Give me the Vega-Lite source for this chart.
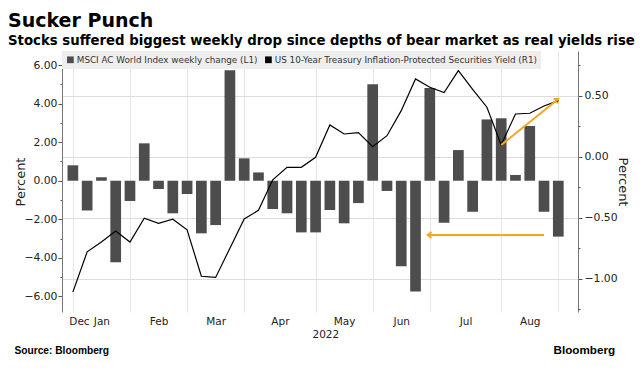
{
  "$schema": "https://vega.github.io/schema/vega-lite/v6.json",
  "width": 516,
  "height": 261,
  "autosize": {"type": "none"},
  "padding": {"left": 62, "top": 51, "right": 65, "bottom": 60},
  "background": "white",
  "title": {
    "text": "Sucker Punch",
    "subtitle": "Stocks suffered biggest weekly drop since depths of bear market as real yields rise",
    "anchor": "start",
    "frame": "group",
    "dx": -54,
    "offset": 4,
    "font": "DejaVu Sans",
    "fontSize": 19,
    "fontWeight": "bold",
    "color": "#000000",
    "subtitleFont": "DejaVu Sans",
    "subtitleFontSize": 13.3,
    "subtitleFontWeight": "bold",
    "subtitleColor": "#000000",
    "subtitlePadding": 3
  },
  "datasets": {
    "weekly": [
      {"date": "2021-12-31", "chg": 0.80, "tips": -1.11},
      {"date": "2022-01-07", "chg": -1.54, "tips": -0.78},
      {"date": "2022-01-14", "chg": 0.18, "tips": -0.70},
      {"date": "2022-01-21", "chg": -4.23, "tips": -0.61},
      {"date": "2022-01-28", "chg": -1.05, "tips": -0.70},
      {"date": "2022-02-04", "chg": 1.94, "tips": -0.505},
      {"date": "2022-02-11", "chg": -0.43, "tips": -0.546},
      {"date": "2022-02-18", "chg": -1.69, "tips": -0.513},
      {"date": "2022-02-25", "chg": -0.69, "tips": -0.60},
      {"date": "2022-03-04", "chg": -2.73, "tips": -0.98},
      {"date": "2022-03-11", "chg": -2.30, "tips": -0.99},
      {"date": "2022-03-18", "chg": 5.73, "tips": -0.75},
      {"date": "2022-03-25", "chg": 1.16, "tips": -0.51},
      {"date": "2022-04-01", "chg": 0.43, "tips": -0.44},
      {"date": "2022-04-08", "chg": -1.47, "tips": -0.19},
      {"date": "2022-04-15", "chg": -1.69, "tips": -0.087},
      {"date": "2022-04-22", "chg": -2.68, "tips": -0.087},
      {"date": "2022-04-29", "chg": -2.68, "tips": -0.005},
      {"date": "2022-05-06", "chg": -1.52, "tips": 0.26},
      {"date": "2022-05-13", "chg": -2.21, "tips": 0.186},
      {"date": "2022-05-20", "chg": -1.16, "tips": 0.197},
      {"date": "2022-05-27", "chg": 5.00, "tips": 0.082},
      {"date": "2022-06-03", "chg": -0.53, "tips": 0.172},
      {"date": "2022-06-10", "chg": -4.44, "tips": 0.377},
      {"date": "2022-06-17", "chg": -5.75, "tips": 0.637},
      {"date": "2022-06-24", "chg": 4.81, "tips": 0.569},
      {"date": "2022-07-01", "chg": -2.18, "tips": 0.525},
      {"date": "2022-07-08", "chg": 1.59, "tips": 0.705},
      {"date": "2022-07-15", "chg": -1.61, "tips": 0.552},
      {"date": "2022-07-22", "chg": 3.18, "tips": 0.405},
      {"date": "2022-07-29", "chg": 3.24, "tips": 0.096},
      {"date": "2022-08-05", "chg": 0.30, "tips": 0.35},
      {"date": "2022-08-12", "chg": 2.84, "tips": 0.356},
      {"date": "2022-08-19", "chg": -1.61, "tips": 0.415},
      {"date": "2022-08-26", "chg": -2.90, "tips": 0.459}
    ],
    "arrows": [
      {"x0": "2022-07-29", "y0": 0.096, "x1": "2022-08-26", "y1": 0.473, "ang": -38},
      {"x0": "2022-08-19", "y0": -0.642, "x1": "2022-06-23", "y1": -0.642, "ang": 180}
    ]
  },
  "layer": [
    {
      "data": {"name": "arrows"},
      "mark": {"type": "point", "shape": "M-1,-0.8L0,0L-1,0.8", "filled": false, "color": "#f5a623", "strokeWidth": 2, "size": 55, "opacity": 1},
      "encoding": {
        "x": {
          "field": "x1",
          "type": "temporal",
          "scale": {"type": "utc", "domain": [{"year": 2021, "month": 12, "date": 28, "hours": 3, "utc": true}, {"year": 2022, "month": 9, "date": 2, "hours": 5, "utc": true}], "nice": false},
          "axis": {
            "orient": "bottom",
            "values": [
              {"year": 2021, "month": 12, "date": 31, "utc": true},
              {"year": 2022, "month": 1, "date": 28, "utc": true},
              {"year": 2022, "month": 2, "date": 25, "utc": true},
              {"year": 2022, "month": 3, "date": 25, "utc": true},
              {"year": 2022, "month": 4, "date": 29, "utc": true},
              {"year": 2022, "month": 5, "date": 27, "utc": true},
              {"year": 2022, "month": 6, "date": 24, "utc": true},
              {"year": 2022, "month": 7, "date": 29, "utc": true},
              {"year": 2022, "month": 8, "date": 26, "utc": true}
            ],
            "grid": true,
            "gridColor": "#e6e6e6",
            "labels": false,
            "ticks": false,
            "domain": false,
            "title": "Source: Bloomberg",
            "titleFont": "Liberation Sans",
            "titleFontWeight": "bold",
            "titleFontSize": 10.2,
            "titleColor": "#000000",
            "titleAlign": "left",
            "titleBaseline": "middle",
            "titleX": -48,
            "titleY": 38
          }
        },
        "y": {
          "field": "y1",
          "type": "quantitative",
          "scale": {"domain": [-1.273, 0.866], "nice": false, "zero": false},
          "axis": {
            "orient": "right",
            "values": [-1, -0.5, 0, 0.5],
            "format": ".2f",
            "grid": true,
            "gridColor": "#dcdcdc",
            "tickSize": 4,
            "tickColor": "#555555",
            "domainColor": "#777777",
            "labelPadding": 2,
            "labelFontSize": 10.8,
            "title": "Percent",
            "titleFontSize": 13,
            "titleX": 44,
            "titleBaseline": "middle"
          }
        },
        "angle": {"field": "ang", "type": "quantitative", "scale": null}
      }
    },
    {
      "data": {"name": "weekly"},
      "mark": {"type": "bar", "width": 10.7},
      "encoding": {
        "x": {
          "field": "date",
          "type": "temporal",
          "scale": {"type": "utc", "domain": [{"year": 2021, "month": 12, "date": 28, "hours": 3, "utc": true}, {"year": 2022, "month": 9, "date": 2, "hours": 5, "utc": true}], "nice": false},
          "axis": {
            "orient": "bottom",
            "values": [
              {"year": 2022, "month": 1, "date": 3, "utc": true},
              {"year": 2022, "month": 1, "date": 14, "utc": true},
              {"year": 2022, "month": 2, "date": 11, "utc": true},
              {"year": 2022, "month": 3, "date": 11, "utc": true},
              {"year": 2022, "month": 4, "date": 11, "hours": 12, "utc": true},
              {"year": 2022, "month": 5, "date": 13, "utc": true},
              {"year": 2022, "month": 6, "date": 10, "utc": true},
              {"year": 2022, "month": 7, "date": 11, "hours": 12, "utc": true},
              {"year": 2022, "month": 8, "date": 12, "utc": true}
            ],
            "labelExpr": "datum.value < utc(2022, 0, 5) ? 'Dec' : utcFormat(datum.value, '%b')",
            "labelOverlap": false,
            "labelFlush": false,
            "labelFontSize": 10.5,
            "labelPadding": 4,
            "grid": false,
            "ticks": false,
            "domain": false,
            "title": "2022",
            "titleFontSize": 10.5,
            "titleFontWeight": "normal",
            "titleAlign": "left",
            "titleBaseline": "middle",
            "titleX": 250,
            "titleY": 22
          }
        },
        "y": {
          "field": "chg",
          "type": "quantitative",
          "scale": {"domain": [-6.81, 6.73], "nice": false, "zero": false},
          "axis": {
            "orient": "left",
            "values": [-6, -5, -4, -3, -2, -1, 0, 1, 2, 3, 4, 5, 6],
            "labelExpr": "datum.value % 2 === 0 ? format(datum.value, '.2f') : ''",
            "grid": false,
            "tickSize": {"condition": {"test": "datum.value % 2 === 0", "value": 4}, "value": 2},
            "tickColor": "#555555",
            "domainColor": "#777777",
            "labelPadding": 1,
            "labelFontSize": 10.8,
            "title": "Percent",
            "titleFontSize": 13,
            "titleX": -42,
            "titleBaseline": "middle"
          }
        },
        "color": {
          "datum": "MSCI AC World Index weekly change (L1)",
          "type": "nominal",
          "scale": {
            "domain": ["MSCI AC World Index weekly change (L1)", "US 10-Year Treasury Inflation-Protected Securities Yield (R1)"],
            "range": ["#4d4d4d", "#000000"]
          },
          "legend": {
            "orient": "top-left",
            "offset": 0,
            "direction": "horizontal",
            "title": null,
            "fillColor": "#eeeeee",
            "padding": 4,
            "symbolType": "square",
            "symbolSize": 45,
            "symbolStrokeWidth": 0,
            "labelFont": "DejaVu Sans",
            "labelFontSize": 8.8,
            "labelColor": "#333333",
            "labelOffset": 2,
            "columnPadding": 6,
            "labelLimit": 400
          }
        }
      }
    },
    {
      "data": {"name": "weekly"},
      "mark": {"type": "line", "color": "#000000", "strokeWidth": 1.2},
      "encoding": {
        "x": {
          "field": "date",
          "type": "temporal",
          "scale": {"type": "utc", "domain": [{"year": 2021, "month": 12, "date": 28, "hours": 3, "utc": true}, {"year": 2022, "month": 9, "date": 2, "hours": 5, "utc": true}], "nice": false},
          "axis": null
        },
        "y": {
          "field": "tips",
          "type": "quantitative",
          "scale": {"domain": [-1.273, 0.866], "nice": false, "zero": false},
          "axis": {
            "orient": "right",
            "values": [-1.25, -0.75, -0.25, 0.25, 0.75],
            "grid": false,
            "labels": false,
            "ticks": true,
            "tickSize": 2,
            "tickColor": "#555555",
            "domain": false,
            "title": null
          }
        }
      }
    },
    {
      "data": {"name": "arrows"},
      "mark": {"type": "rule", "color": "#f5a623", "strokeWidth": 2},
      "encoding": {
        "x": {
          "field": "x0",
          "type": "temporal",
          "scale": {"type": "utc", "domain": [{"year": 2021, "month": 12, "date": 28, "hours": 3, "utc": true}, {"year": 2022, "month": 9, "date": 2, "hours": 5, "utc": true}], "nice": false},
          "axis": {
            "orient": "bottom",
            "labels": false,
            "ticks": false,
            "domain": false,
            "grid": false,
            "title": "Bloomberg",
            "titleFont": "Liberation Sans",
            "titleFontWeight": "bold",
            "titleFontSize": 11.7,
            "titleColor": "#000000",
            "titleAlign": "left",
            "titleBaseline": "middle",
            "titleX": 491,
            "titleY": 37
          }
        },
        "x2": {"field": "x1"},
        "y": {
          "field": "y0",
          "type": "quantitative",
          "scale": {"domain": [-1.273, 0.866], "nice": false, "zero": false},
          "axis": null
        },
        "y2": {"field": "y1"}
      }
    }
  ],
  "resolve": {"scale": {"y": "independent"}, "axis": {"x": "independent", "y": "independent"}},
  "config": {
    "view": {"stroke": null},
    "axis": {
      "labelFont": "DejaVu Sans",
      "titleFont": "DejaVu Sans",
      "labelColor": "#222222",
      "titleColor": "#222222",
      "titleFontWeight": "normal"
    }
  }
}
